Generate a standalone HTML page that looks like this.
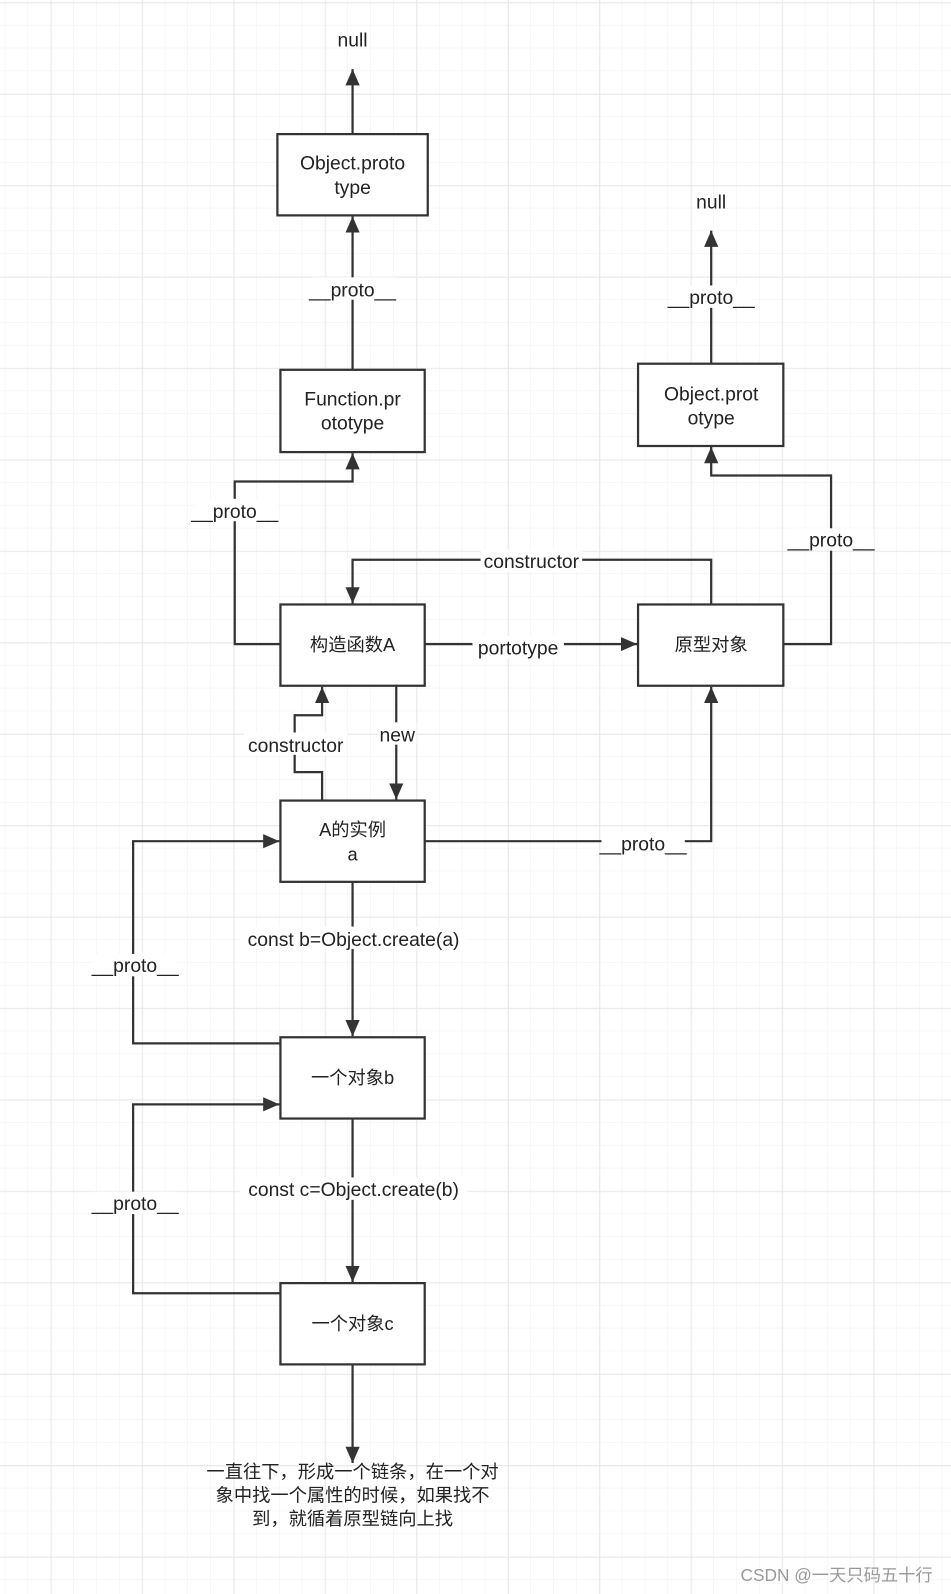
<!DOCTYPE html>
<html><head><meta charset="utf-8"><style>
html,body{margin:0;padding:0;background:#fff}
svg{display:block}
text{font-family:"Liberation Sans","Noto Sans CJK SC",sans-serif;fill:#222}
</style></head><body>
<svg width="951" height="1594" viewBox="0 0 936 1569" xmlns="http://www.w3.org/2000/svg">
<defs>
<pattern id="minor" x="50" y="2.5" width="22.5" height="22.5" patternUnits="userSpaceOnUse">
<path d="M22.5 0V22.5M0 22.5H22.5" stroke="#efefef" stroke-width="1" fill="none"/>
</pattern>
<pattern id="major" x="50" y="2.5" width="90" height="90" patternUnits="userSpaceOnUse">
<path d="M0 0V90M0 0H90" stroke="#e6e6e6" stroke-width="1.5" fill="none"/>
</pattern>
<marker id="ar" viewBox="0 0 16 14" refX="16" refY="7" markerWidth="16" markerHeight="14" markerUnits="userSpaceOnUse" orient="auto">
<path d="M0 0L16 7L0 14Z" fill="#333"/>
</marker>
</defs>
<rect width="936" height="1569" fill="#fff"/>
<rect width="936" height="1569" fill="url(#minor)"/>
<rect width="936" height="1569" fill="url(#major)"/>

<g stroke="#333" stroke-width="2.2" fill="none">
<path d="M347 132V68" marker-end="url(#ar)"/>
<path d="M347 364V213" marker-end="url(#ar)"/>
<path d="M276 634H231V474H347V446" marker-end="url(#ar)"/>
<path d="M700 595V551H347V594" marker-end="url(#ar)"/>
<path d="M418 634H627" marker-end="url(#ar)"/>
<path d="M771 634H818V468H700V440" marker-end="url(#ar)"/>
<path d="M700 358V227" marker-end="url(#ar)"/>
<path d="M317 788V760H290V704H317V676" marker-end="url(#ar)"/>
<path d="M390 675V787" marker-end="url(#ar)"/>
<path d="M418 828H700V676" marker-end="url(#ar)"/>
<path d="M347 868V1020" marker-end="url(#ar)"/>
<path d="M276 1027H131V828H275" marker-end="url(#ar)"/>
<path d="M347 1101V1262" marker-end="url(#ar)"/>
<path d="M276 1273H131V1087H275" marker-end="url(#ar)"/>
<path d="M347 1343V1440" marker-end="url(#ar)"/>
</g>

<g fill="#fff" stroke="#333" stroke-width="2.2">
<rect x="273" y="132" width="148" height="80"/>
<rect x="276" y="364" width="142" height="81"/>
<rect x="628" y="358" width="143" height="81"/>
<rect x="276" y="595" width="142" height="80"/>
<rect x="628" y="595" width="143" height="80"/>
<rect x="276" y="788" width="142" height="80"/>
<rect x="276" y="1021" width="142" height="80"/>
<rect x="276" y="1263" width="142" height="80"/>
</g>

<g fill="#fff">
<rect x="307" y="273" width="82" height="22"/>
<rect x="191" y="491" width="82" height="22"/>
<rect x="660" y="281" width="82" height="22"/>
<rect x="473" y="541" width="100" height="22"/>
<rect x="465" y="626" width="90" height="22"/>
<rect x="778" y="520" width="82" height="22"/>
<rect x="240" y="721" width="102" height="22"/>
<rect x="372" y="711" width="38" height="22"/>
<rect x="592" y="818" width="82" height="22"/>
<rect x="236" y="912" width="224" height="22"/>
<rect x="92" y="939" width="82" height="22"/>
<rect x="236" y="1159" width="224" height="22"/>
<rect x="92" y="1173" width="82" height="22"/>
</g>

<g font-size="19" text-anchor="middle">
<text x="347" y="46">null</text>
<text x="700" y="205">null</text>
<text x="347" y="167">Object.proto</text>
<text x="347" y="191">type</text>
<text x="347" y="399">Function.pr</text>
<text x="347" y="423">ototype</text>
<text x="700" y="394">Object.prot</text>
<text x="700" y="418">otype</text>
<text x="347" y="292">__proto__</text>
<text x="231" y="510">__proto__</text>
<text x="700" y="299">__proto__</text>
<text x="523" y="559">constructor</text>
<text x="510" y="644">portotype</text>
<text x="818" y="538">__proto__</text>
<text x="291" y="740">constructor</text>
<text x="391" y="730">new</text>
<text x="633" y="837">__proto__</text>
<text x="348" y="931">const b=Object.create(a)</text>
<text x="133" y="957">__proto__</text>
<text x="348" y="1177">const c=Object.create(b)</text>
<text x="133" y="1191">__proto__</text>
</g>
<g font-size="18" text-anchor="middle">
<text x="347" y="641">构造函数A</text>
<text x="700" y="641">原型对象</text>
<text x="347" y="823">A的实例</text>
<text x="347" y="847">a</text>
<text x="347" y="1067">一个对象b</text>
<text x="347" y="1309">一个对象c</text>
<text x="347" y="1455">一直往下，形成一个链条，在一个对</text>
<text x="347" y="1478">象中找一个属性的时候，如果找不</text>
<text x="347" y="1501">到，就循着原型链向上找</text>
</g>
<text x="918" y="1556" font-size="17" text-anchor="end" style="fill:#999">CSDN @一天只码五十行</text>
</svg>
</body></html>
